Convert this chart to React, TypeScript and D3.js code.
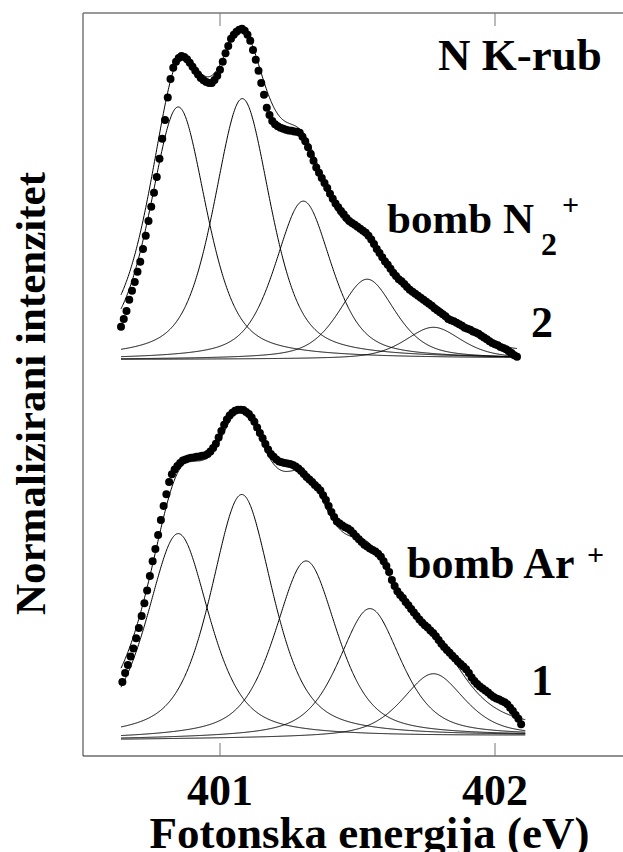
import React from "react";
import * as d3 from "d3";

// ---------- data ----------
const energyStep = 0.01;
// Spectrum 2 (bomb N2+), upper
const upperStart = 400.64;
const upperDots = [
  9.4, 11.8, 14.2, 17.6, 20.3, 23.0, 26.1, 29.1, 33.0, 37.0,
  41.5, 45.8, 50.0, 54.8, 60.3, 66.4, 72.1, 78.9, 84.5, 87.9,
  89.7, 90.9, 91.5, 91.2, 90.5, 89.4, 88.2, 87.0, 85.9, 84.8,
  84.1, 83.6, 83.3, 83.3, 84.2, 85.5, 87.3, 89.7, 92.3, 94.5,
  96.7, 97.9, 98.8, 99.4, 99.7, 99.1, 97.9, 96.1, 93.3, 90.3,
  87.0, 83.3, 79.7, 75.8, 73.6, 71.8, 70.8, 70.2, 69.7, 69.4,
  69.1, 68.9, 68.8, 68.6, 68.5, 68.2, 67.0, 65.6, 63.8, 61.8,
  59.7, 57.7, 56.1, 54.5, 53.0, 51.5, 49.7, 48.2, 46.8, 45.6,
  44.5, 43.5, 42.4, 41.5, 40.9, 40.3, 39.7, 39.1, 38.5, 37.9,
  37.0, 35.9, 34.5, 33.0, 31.8, 30.5, 29.2, 28.2, 27.0, 25.8,
  24.8, 23.8, 23.2, 22.4, 21.5, 20.6, 20.0, 19.4, 18.8, 18.2,
  17.6, 17.0, 16.4, 15.8, 15.0, 14.4, 13.8, 13.2, 12.6, 11.8,
  11.4, 11.1, 10.6, 10.2, 9.7, 9.1, 8.8, 8.5, 8.0, 7.7,
  7.3, 6.7, 6.2, 5.6, 5.0, 4.5, 4.1, 3.8, 3.3, 3.0,
  2.6, 2.0, 1.5, 0.8, 0.3,
];
const upperOffset = 115.5;
const upperPeakEnergies = [400.848, 401.081, 401.303, 401.535, 401.776];
const upperPeakHeights = [76.5, 79.0, 47.9, 24.2, 9.6];
const upperHwhm = 0.122;
const upperEta = 0.55;
const upperRange = [400.64, 402.08];
const upperBackground = [-0.5, -0.3];

// Spectrum 1 (bomb Ar+), lower
const lowerStart = 400.645;
const lowerDots = [
  17.3, 20.0, 22.4, 25.0, 27.4, 30.5, 33.6, 37.3, 41.1, 45.0,
  49.4, 53.9, 57.6, 61.8, 66.4, 70.6, 74.2, 77.9, 80.2, 81.7,
  82.7, 83.6, 84.4, 84.7, 85.0, 85.2, 85.3, 85.5, 85.6, 85.8,
  85.9, 86.4, 87.1, 88.2, 89.5, 91.4, 93.3, 95.2, 96.8, 98.0,
  98.9, 99.5, 99.8, 99.8, 99.7, 99.1, 98.5, 97.4, 96.1, 94.4,
  92.7, 91.1, 89.4, 87.7, 86.4, 85.5, 84.7, 84.1, 83.9, 83.6,
  83.5, 83.3, 83.0, 82.6, 82.0, 81.2, 80.3, 79.4, 78.6, 77.9,
  77.0, 76.2, 75.3, 73.9, 72.4, 70.6, 68.8, 67.3, 65.9, 65.3,
  64.7, 64.2, 63.8, 63.2, 62.3, 61.4, 60.5, 59.7, 58.9, 58.3,
  57.7, 57.3, 56.8, 56.1, 55.2, 53.9, 52.4, 50.6, 48.2, 46.4,
  44.8, 43.6, 42.7, 41.5, 40.5, 39.4, 38.3, 37.3, 36.2, 35.3,
  34.5, 33.8, 32.9, 32.1, 31.1, 30.0, 28.9, 27.9, 27.0, 26.1,
  25.2, 24.4, 23.5, 22.7, 22.0, 21.1, 20.0, 18.6, 17.6, 16.7,
  15.9, 15.3, 14.7, 14.1, 13.3, 12.7, 12.3, 12.0, 11.5, 11.1,
  10.5, 9.5, 8.5, 7.3, 6.1, 4.5,
];
const lowerOffset = 0;
const lowerPeakEnergies = [400.848, 401.079, 401.313, 401.545, 401.776];
const lowerPeakHeights = [62.3, 74.0, 53.7, 39.1, 19.2];
const lowerHwhm = 0.135;
const lowerEta = 0.6;
const lowerRange = [400.64, 402.11];
const lowerBackground = [-0.2, 0.8];

const xTicks = [401, 402];
const xTitle = "Fotonska energija (eV)";
const yTitle = "Normalizirani intenzitet";

// ---------- helpers ----------
const W = 623;
const H = 852;
const frame = { left: 83, top: 13, bottom: 756, right: 640 };

const x = d3.scaleLinear().domain([401, 402]).range([220, 495]);
const y = d3.scaleLinear().domain([0, 100]).range([739, 409]);

function pv(e: number, c: number, h: number, w: number, eta: number) {
  const t = (e - c) / w;
  return h * ((1 - eta) * Math.exp(-Math.LN2 * t * t) + eta / (1 + t * t));
}

type Panel = {
  start: number;
  dots: number[];
  offset: number;
  centers: number[];
  heights: number[];
  w: number;
  eta: number;
  range: number[];
  bg: number[];
};

const panels: Panel[] = [
  { start: upperStart, dots: upperDots, offset: upperOffset, centers: upperPeakEnergies, heights: upperPeakHeights, w: upperHwhm, eta: upperEta, range: upperRange, bg: upperBackground },
  { start: lowerStart, dots: lowerDots, offset: lowerOffset, centers: lowerPeakEnergies, heights: lowerPeakHeights, w: lowerHwhm, eta: lowerEta, range: lowerRange, bg: lowerBackground },
];

const line = d3
  .line<[number, number]>()
  .x((d) => x(d[0]))
  .y((d) => y(d[1]))
  .curve(d3.curveLinear);

function PanelView({ p }: { p: Panel }) {
  const [e0, e1] = p.range;
  const grid = d3.range(e0, e1 + 1e-9, 0.002);
  const bgAt = (e: number) => p.bg[0] + ((p.bg[1] - p.bg[0]) * (e - e0)) / (e1 - e0);
  const comps = p.centers.map((c, i) =>
    grid.map((e) => [e, p.offset + bgAt(e) + pv(e, c, p.heights[i], p.w, p.eta)] as [number, number])
  );
  const total = grid.map(
    (e) =>
      [
        e,
        p.offset + bgAt(e) + p.centers.reduce((s, c, i) => s + pv(e, c, p.heights[i], p.w, p.eta), 0),
      ] as [number, number]
  );
  return (
    <g>
      {comps.map((c, i) => (
        <path key={i} d={line(c) || ""} fill="none" stroke="#000" strokeWidth={1} />
      ))}
      <path d={line(total) || ""} fill="none" stroke="#000" strokeWidth={1} />
      {p.dots.map((v, i) => (
        <circle key={i} cx={x(p.start + i * energyStep)} cy={y(p.offset + v)} r={4} fill="#000" />
      ))}
    </g>
  );
}

const serif =
  '"Liberation Serif", "Tinos", "Times New Roman", "Times", "Nimbus Roman", "FreeSerif", "Noto Serif", "DejaVu Serif", serif';
const T = (props: any) => (
  <text {...props} fontFamily={serif} fontWeight="bold" />
);

export default function App() {
  return (
    <svg
      width={W}
      height={H}
      viewBox={`0 0 ${W} ${H}`}
      style={{ position: "absolute", left: 0, top: 0, background: "#fff" }}
    >
      <rect x={0} y={0} width={W} height={H} fill="#fff" />
      {/* frame */}
      <line x1={frame.left} y1={frame.top} x2={frame.right} y2={frame.top} stroke="#777" strokeWidth={1.5} />
      <line x1={frame.left} y1={frame.top} x2={frame.left} y2={frame.bottom} stroke="#777" strokeWidth={1.5} />
      <line x1={frame.left} y1={frame.bottom} x2={frame.right} y2={frame.bottom} stroke="#222" strokeWidth={1.2} />
      {xTicks.map((t) => (
        <g key={t}>
          <line x1={x(t)} x2={x(t)} y1={frame.top} y2={frame.top + 13} stroke="#777" strokeWidth={1} />
          <line x1={x(t)} x2={x(t)} y1={frame.bottom} y2={frame.bottom - 13} stroke="#777" strokeWidth={1} />
          <T x={x(t)} y={805} textAnchor="middle" fontSize={44}>
            {t}
          </T>
        </g>
      ))}
      {panels.map((p, i) => (
        <PanelView key={i} p={p} />
      ))}
      {/* annotations */}
      <T x={438} y={70} fontSize={45}>N K-rub</T>
      <T x={387} y={233} fontSize={43}>bomb N</T>
      <T x={541} y={255} fontSize={32}>2</T>
      <T x={562} y={215} fontSize={30}>+</T>
      <T x={531} y={337} fontSize={44}>2</T>
      <T x={407} y={578} fontSize={44}>bomb Ar</T>
      <T x={587} y={565} fontSize={30}>+</T>
      <T x={531} y={695} fontSize={44}>1</T>
      {/* axis titles */}
      <T x={369.5} y={848} textAnchor="middle" fontSize={45}>
        {xTitle}
      </T>
      <T transform="translate(45,393.5) rotate(-90)" textAnchor="middle" fontSize={43}>
        {yTitle}
      </T>
    </svg>
  );
}
